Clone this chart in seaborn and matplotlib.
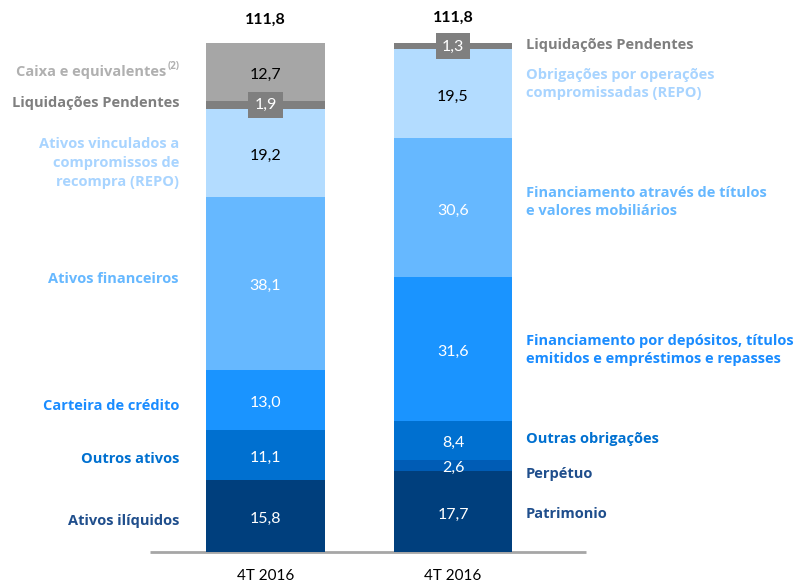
import numpy as np
import pandas as pd
import matplotlib
matplotlib.use("Agg")
import matplotlib.pyplot as plt
import seaborn as sns

# ---------------- data ----------------
category_label = "4T 2016"
total_label = "111,8"

left_names = ["Ativos ilíquidos", "Outros ativos", "Carteira de crédito", "Ativos financeiros",
              "Ativos vinculados a\ncompromissos de\nrecompra (REPO)", "Liquidações Pendentes",
              "Caixa e equivalentes"]
left_values = [15.8, 11.1, 13.0, 38.1, 19.2, 1.9, 12.7]

right_names = ["Patrimonio", "Perpétuo", "Outras obrigações",
               "Financiamento por depósitos, títulos\nemitidos e empréstimos e repasses",
               "Financiamento através de títulos\ne valores mobiliários",
               "Obrigações por operações\ncompromissadas (REPO)", "Liquidações Pendentes"]
right_values = [17.7, 2.6, 8.4, 31.6, 30.6, 19.5, 1.3]

# ---------------- styles ----------------
left_colors = ["#003f7d", "#0070d0", "#1a94ff", "#66b8ff", "#b3dcff", "#7f7f7f", "#a6a6a6"]
right_colors = ["#003f7d", "#005cb5", "#0070d0", "#1a94ff", "#66b8ff", "#b3dcff", "#7f7f7f"]
left_text_colors = ["#1f4e8c", "#0070d0", "#1a8cff", "#66b8ff", "#a8d4ff", "#7f7f7f", "#b0b0b0"]
right_text_colors = ["#1f4e8c", "#1f4e8c", "#0070d0", "#1a8cff", "#66b8ff", "#a8d4ff", "#7f7f7f"]
left_value_colors = ["white", "white", "white", "white", "black", "white", "black"]
right_value_colors = ["white", "white", "white", "white", "white", "black", "white"]
# label y positions in pixels (from top of figure)
left_label_py = [521, 459, 406, 279, 163, 103, 72]
right_label_py = [514, 474, 439, 350, 202, 84, 45]

LABEL_FONT = ["Open Sans", "DejaVu Sans"]
LABEL_SIZE = 10.5

sns.set_theme(style="white")
plt.rcParams["font.family"] = ["Lato", "DejaVu Sans"]

W, H = 799, 584
fig = plt.figure(figsize=(W / 100, H / 100), dpi=100)
ax = fig.add_axes([0, 0, 1, 1])

# pixel geometry
x0_px, dx_px = 265.5, 187.5
base_py, scale = 552.0, (552.0 - 43.0) / 111.8


def xd(px):
    return (px - x0_px) / dx_px


def yd(py):
    return (base_py - py) / scale


cumL = np.cumsum(left_values)
cumR = np.cumsum(right_values)
n = len(left_values)
for i in range(n - 1, -1, -1):
    df = pd.DataFrame({"cat": ["L", "R"], "val": [cumL[i], cumR[i]]})
    sns.barplot(data=df, x="cat", y="val", hue="cat",
                palette={"L": left_colors[i], "R": right_colors[i]},
                width=0.63, saturation=1, legend=False, ax=ax,
                linewidth=0, edgecolor="none", errorbar=None)

ax.set_xlim(xd(0), xd(W))
ax.set_ylim(yd(H), yd(0))
ax.set_axis_off()

# baseline
ax.plot([xd(150), xd(586)], [0, 0], color="#a6a6a6", lw=2, zorder=0.5, solid_capstyle="butt")


# value labels
def put_values(xc, values, cum, vcolors, liq_idx):
    bottoms = np.concatenate([[0], cum[:-1]])
    for j, (v, b) in enumerate(zip(values, bottoms)):
        yc = b + v / 2 - 0.6
        s = f"{v:.1f}".replace(".", ",")
        if j == liq_idx:
            ax.text(xc, b + v / 2, s, ha="center", va="center", fontsize=11.5,
                    color="white", zorder=5,
                    bbox=dict(boxstyle="square,pad=0.38", fc="#7f7f7f", ec="none"))
        else:
            ax.text(xc, yc, s, ha="center", va="center", fontsize=11.5,
                    color=vcolors[j], zorder=5)


put_values(0, left_values, cumL, left_value_colors, 5)
put_values(1, right_values, cumR, right_value_colors, 6)

# totals
ax.text(0, yd(20), total_label, ha="center", va="center", fontsize=11.5, fontweight="bold", color="black")
ax.text(1, yd(18), total_label, ha="center", va="center", fontsize=11.5, fontweight="bold", color="black")

# category labels
ax.text(0, yd(576), category_label, ha="center", va="center", fontsize=11, color="black")
ax.text(1, yd(576), category_label, ha="center", va="center", fontsize=11, color="black")

# left labels
for j, name in enumerate(left_names):
    if j == 6:
        ax.text(xd(166), yd(left_label_py[j]), name, ha="right", va="center",
                fontsize=LABEL_SIZE, fontweight="bold", color=left_text_colors[j], family=LABEL_FONT)
        ax.text(xd(180), yd(left_label_py[j] - 5), "(2)", ha="right", va="center",
                fontsize=7, fontweight="bold", color=left_text_colors[j], family=LABEL_FONT)
    else:
        ax.text(xd(179), yd(left_label_py[j]), name, ha="right", va="center",
                multialignment="right", linespacing=1.45, family=LABEL_FONT,
                fontsize=LABEL_SIZE, fontweight="bold", color=left_text_colors[j])

# right labels
for j, name in enumerate(right_names):
    ax.text(xd(526), yd(right_label_py[j]), name, ha="left", va="center",
            multialignment="left", linespacing=1.45, family=LABEL_FONT,
            fontsize=LABEL_SIZE, fontweight="bold", color=right_text_colors[j])

fig.savefig("out.png", dpi=100)
